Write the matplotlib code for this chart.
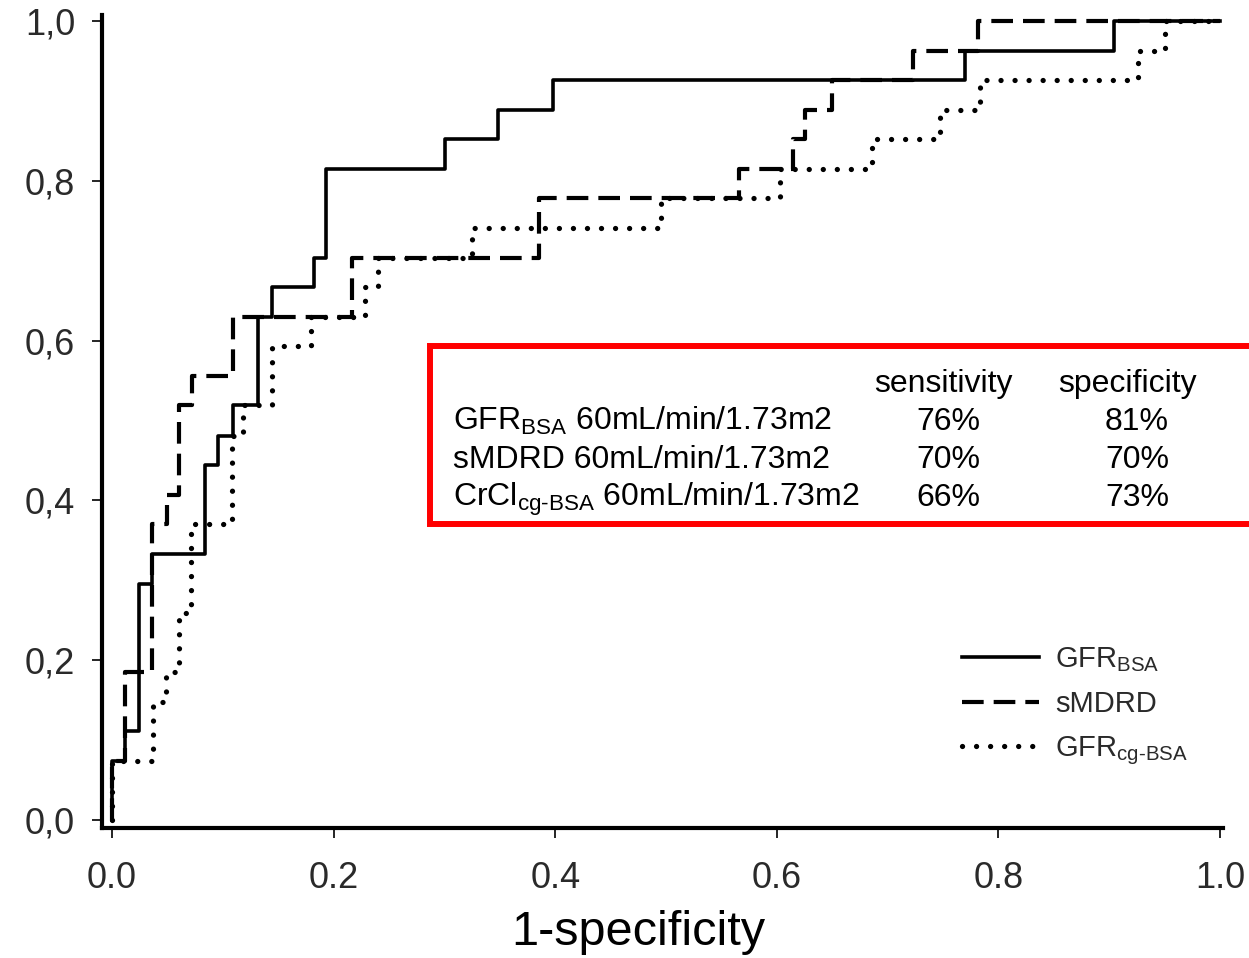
import matplotlib
matplotlib.use('Agg')
import matplotlib.pyplot as plt
from matplotlib.patches import Rectangle

plt.rcParams['font.family'] = ['Liberation Sans', 'DejaVu Sans']
plt.rcParams['mathtext.fontset'] = 'custom'
plt.rcParams['mathtext.rm'] = 'Liberation Sans'
plt.rcParams['mathtext.it'] = 'Liberation Sans:italic'
plt.rcParams['mathtext.bf'] = 'Liberation Sans:bold'

# ROC points (1-specificity, sensitivity) at the top of each vertical step
gfr_fpr = [0.0, 0.0, 0.0117, 0.0246, 0.0358, 0.0839, 0.0959, 0.109, 0.132, 0.144,
           0.182, 0.193, 0.3005, 0.3486, 0.398, 0.770, 0.904, 1.0]
gfr_tpr = [0.0, 0.074, 0.111, 0.296, 0.333, 0.444, 0.481, 0.519, 0.630, 0.667,
           0.704, 0.815, 0.852, 0.889, 0.926, 0.963, 1.0, 1.0]

smdrd_fpr = [0.0, 0.0, 0.0117, 0.0358, 0.0494, 0.0605, 0.0719, 0.1095, 0.217,
             0.3857, 0.566, 0.615, 0.6255, 0.650, 0.7226, 0.782, 1.0]
smdrd_tpr = [0.0, 0.074, 0.185, 0.370, 0.407, 0.519, 0.556, 0.630, 0.704,
             0.778, 0.815, 0.852, 0.889, 0.926, 0.963, 1.0, 1.0]

cg_fpr = [0.0, 0.0, 0.0367, 0.0485, 0.0605, 0.0715, 0.108, 0.118, 0.144, 0.180,
          0.228, 0.240, 0.3246, 0.4955, 0.603, 0.686, 0.747, 0.783, 0.926, 0.950, 1.0]
cg_tpr = [0.0, 0.074, 0.148, 0.185, 0.259, 0.370, 0.481, 0.519, 0.593, 0.630,
          0.667, 0.704, 0.741, 0.778, 0.815, 0.852, 0.889, 0.926, 0.963, 1.0, 1.0]

legend_labels = ['GFR$_{\\mathrm{BSA}}$', 'sMDRD', 'GFR$_{\\text{cg-BSA}}$']

xticks = [0.0, 0.2, 0.4, 0.6, 0.8, 1.0]
xtick_labels = ['0.0', '0.2', '0.4', '0.6', '0.8', '1.0']
yticks = [0.0, 0.2, 0.4, 0.6, 0.8, 1.0]
ytick_labels = ['0,0', '0,2', '0,4', '0,6', '0,8', '1,0']

# cut-off table
table_header = ['sensitivity', 'specificity']
table_rows = ['GFR$_{\\mathrm{BSA}}$ 60mL/min/1.73m2',
              'sMDRD 60mL/min/1.73m2',
              'CrCl$_{\\text{cg-BSA}}$ 60mL/min/1.73m2']
sensitivity = ['76%', '70%', '66%']
specificity = ['81%', '70%', '73%']

W, H = 1249, 958
fig = plt.figure(figsize=(W / 100, H / 100), dpi=100)
fig.patch.set_facecolor('white')


def fx(px):
    return px / W


def fy(py):
    return 1 - py / H


ax = fig.add_axes([fx(101.5), fy(828), (1223.3 - 101.5) / W, (828 - 15.4) / H])
ax.set_xlim(-0.0095, 1.003)
ax.set_ylim(-0.01, 1.007)

ax.step(gfr_fpr, gfr_tpr, where='post', color='black', lw=2.6,
        label=legend_labels[0], clip_on=False, zorder=4)
ax.step(smdrd_fpr, smdrd_tpr, where='post', color='black', lw=3.0,
        ls=(0, (5.2, 2.4)), label=legend_labels[1], clip_on=False, zorder=3)
ax.step(cg_fpr, cg_tpr, where='post', color='black', lw=3.8,
        ls=(0, (0.01, 2.65)), dash_capstyle='round', label=legend_labels[2],
        clip_on=False, zorder=3)

for s in ['top', 'right']:
    ax.spines[s].set_visible(False)
for s in ['left', 'bottom']:
    ax.spines[s].set_linewidth(3)
    ax.spines[s].set_color('black')

ax.set_xticks(xticks)
ax.set_xticklabels(xtick_labels)
ax.set_yticks(yticks)
ax.set_yticklabels(ytick_labels)
ax.tick_params(axis='both', direction='out', length=7, width=1.2,
               labelsize=26, labelcolor='#2a2a2a')
ax.tick_params(axis='y', pad=12)
ax.tick_params(axis='x', pad=17)
ax.set_xlabel('1-specificity', fontsize=35)
ax.xaxis.set_label_coords(fx(638), fy(910), transform=fig.transFigure)

ax.legend(loc='upper left', bbox_to_anchor=(fx(962), fy(645)),
          bbox_transform=fig.transFigure, frameon=False, fontsize=21,
          borderpad=0, borderaxespad=0, handlelength=2.64,
          handletextpad=0.55, labelspacing=0.55, labelcolor='#2a2a2a')

# red box with the cut-off table
box = Rectangle((fx(430), fy(524)), 1.1, (524 - 346) / H,
                transform=fig.transFigure, facecolor='white',
                edgecolor='#ff0000', linewidth=4.3, zorder=5)
fig.add_artist(box)

fig.text(fx(943), fy(392), table_header[0], ha='center', va='baseline',
         fontsize=23, zorder=6)
fig.text(fx(1127), fy(392), table_header[1], ha='center', va='baseline',
         fontsize=23, zorder=6)
row_base = [430, 468, 506]
for i, lab in enumerate(table_rows):
    fig.text(fx(453), fy(row_base[i]), lab, ha='left', va='baseline',
             fontsize=23, zorder=6)
    fig.text(fx(948), fy(row_base[i]), sensitivity[i], ha='center',
             va='baseline', fontsize=23, zorder=6)
    fig.text(fx(1137), fy(row_base[i]), specificity[i], ha='center',
             va='baseline', fontsize=23, zorder=6)

fig.savefig('out.png', dpi=100, facecolor='white')
